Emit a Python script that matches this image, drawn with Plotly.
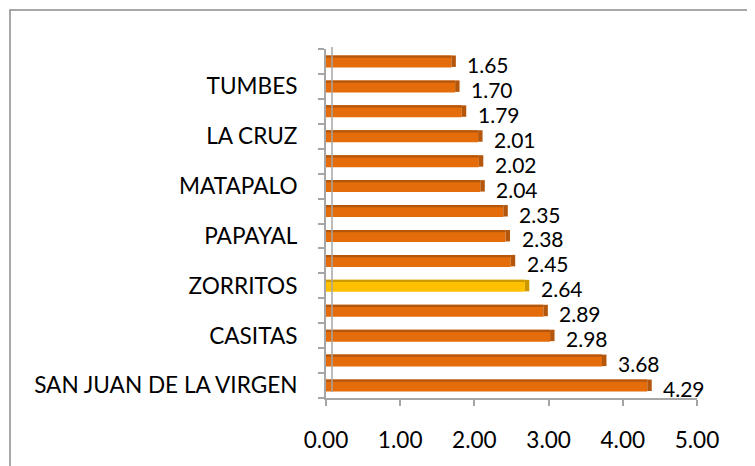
import plotly.graph_objects as go

categories = [
    "SAN JUAN DE LA VIRGEN", "SAN JACINTO", "CASITAS", "CORRALES",
    "ZORRITOS", "PAMPAS DE HOSPITAL", "PAPAYAL", "AGUAS VERDES",
    "MATAPALO", "ZARUMILLA", "LA CRUZ", "CANOAS DE PUNTA SAL",
    "TUMBES", "REGIÓN TUMBES",
]
values = [4.29, 3.68, 2.98, 2.89, 2.64, 2.45, 2.38, 2.35, 2.04, 2.02, 2.01, 1.79, 1.70, 1.65]
highlight = "ZORRITOS"
x_ticks = [0, 1, 2, 3, 4, 5]
x_ticktext = ["0.00", "1.00", "2.00", "3.00", "4.00", "5.00"]

ORANGE = "#E46C0A"
ORANGE_DARK = "#B4570C"
YELLOW = "#FFC000"
YELLOW_DARK = "#CC9A00"
FONT = "Lato"
FS = 22.6
FS_LABEL = 21

# page body has an 8px default margin; compensate so the plot lands where intended
OFF = 8
L, T, PW, PH = 326 - OFF, 49 - OFF, 371, 349
DEPTH = 0.04   # 3D depth of the bars, in x units
CAP = 0.06     # width of the darker right end cap, in x units

idx = list(range(len(categories)))
face = [YELLOW if c == highlight else ORANGE for c in categories]
dark = [YELLOW_DARK if c == highlight else ORANGE_DARK for c in categories]

fig = go.Figure()
# front face
fig.add_trace(go.Bar(
    y=idx, x=[v + DEPTH for v in values], orientation="h", width=0.48, offset=-0.24,
    marker=dict(color=face, line=dict(width=0)), hoverinfo="skip",
    showlegend=False,
))
# top face (3D effect)
fig.add_trace(go.Bar(
    y=idx, x=[v + DEPTH for v in values], orientation="h", width=0.09, offset=0.15,
    marker=dict(color=dark, line=dict(width=0)), hoverinfo="skip",
    showlegend=False,
))
# right end cap (3D effect)
fig.add_trace(go.Bar(
    y=idx, x=[CAP] * len(values), base=[v + DEPTH for v in values],
    orientation="h", width=0.46, offset=-0.22,
    marker=dict(color=dark, line=dict(width=0)), hoverinfo="skip",
    showlegend=False,
))

for i, v in zip(idx, values):
    fig.add_annotation(
        x=v, y=i, text=f"{v:.2f}", showarrow=False,
        xanchor="left", yanchor="middle", xshift=17, yshift=-3,
        font=dict(family=FONT, size=FS_LABEL, color="#000000"),
    )

# outer frame (pixel positions converted to paper coords)
fig.add_shape(type="rect", xref="paper", yref="paper",
              x0=(10 - 326) / PW, x1=(770 - 326) / PW,
              y0=(398 - 480) / PH, y1=(398 - 10) / PH,
              line=dict(color="#8C8C8C", width=1.5), layer="below")
# 3D wall depth line
fig.add_shape(type="line", xref="paper", yref="paper",
              x0=6 / PW, x1=6 / PW, y0=6 / PH, y1=1.0 + 2 / PH,
              line=dict(color="#A6A6A6", width=1.5))

fig.update_layout(
    width=755, height=466,
    margin=dict(l=L, r=755 - L - PW, t=T, b=466 - T - PH, autoexpand=False),
    paper_bgcolor="white", plot_bgcolor="white",
    barmode="overlay",
    font=dict(family=FONT, size=FS, color="#000000"),
    xaxis=dict(
        range=[0, 5], tickvals=x_ticks, ticktext=x_ticktext,
        showgrid=False, zeroline=False, automargin=False,
        showline=True, linecolor="#A6A6A6", linewidth=2,
        ticks="outside", ticklen=6, tickcolor="#A6A6A6", tickwidth=2,
        ticklabelstandoff=15,
        tickfont=dict(family=FONT, size=FS, color="#000000"),
    ),
    yaxis=dict(
        range=[-0.5, len(categories) - 0.5],
        tickvals=idx[::2], ticktext=categories[::2],
        ticks="", showgrid=False, zeroline=False, automargin=False,
        showline=True, linecolor="#A6A6A6", linewidth=2,
        ticklabelstandoff=22,
        minor=dict(tick0=-0.5, dtick=1, ticks="outside", ticklen=6,
                   tickcolor="#A6A6A6", tickwidth=2, showgrid=False),
        tickfont=dict(family=FONT, size=FS, color="#000000"),
    ),
)

fig.write_html("out.html")
